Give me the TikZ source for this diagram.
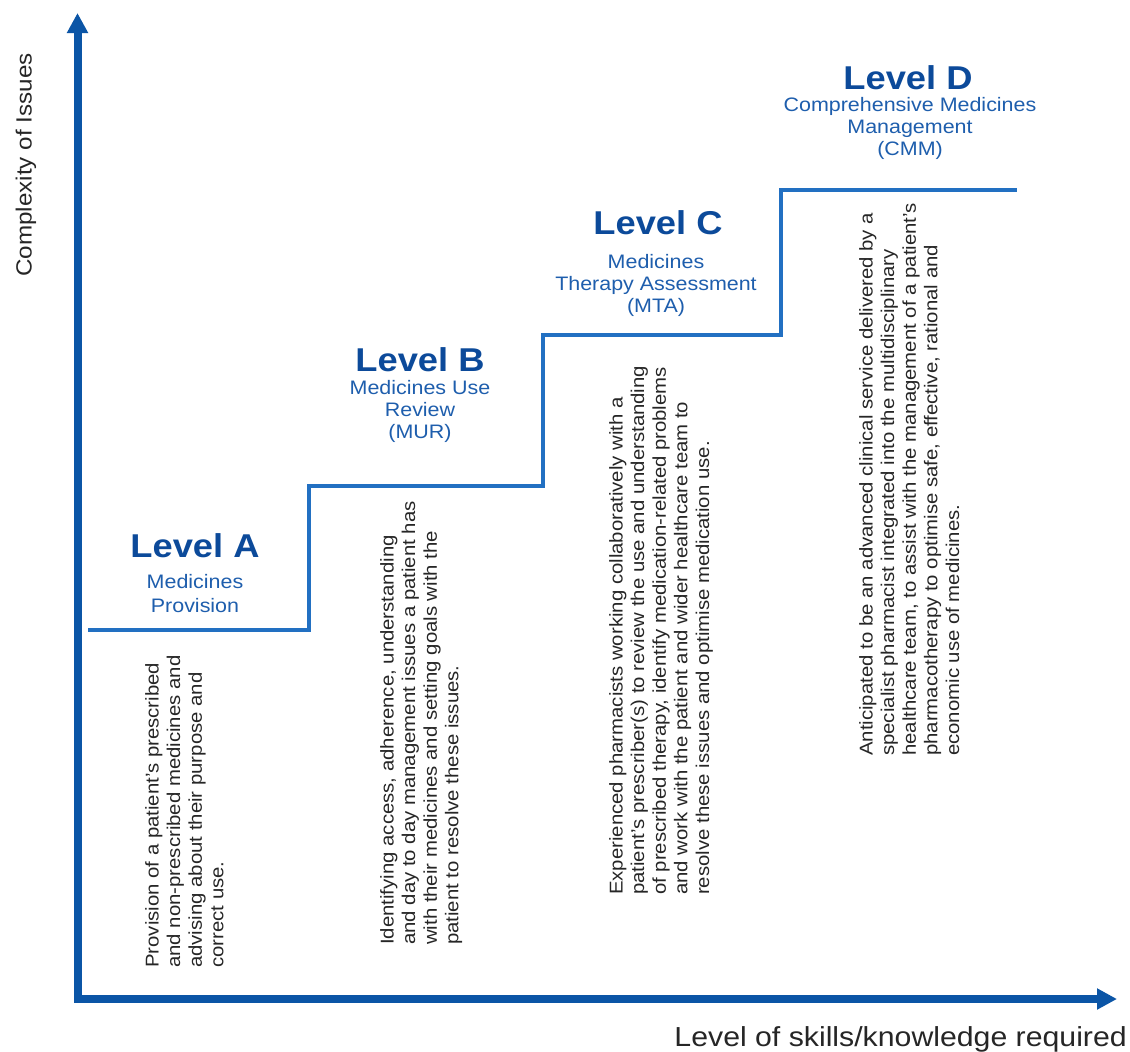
\documentclass[tikz,border=0pt]{standalone}
\usepackage{fontspec}
\setmainfont{Liberation Sans}[FakeStretch=1.1]
\usetikzlibrary{arrows.meta}
\definecolor{axisblue}{HTML}{0B55A6}
\definecolor{stepblue}{HTML}{2270C2}
\definecolor{titleblue}{HTML}{0C4A9A}
\definecolor{subblue}{HTML}{1E5EAD}
\definecolor{bodygray}{HTML}{262626}
\begin{document}
\begin{tikzpicture}[x=1pt,y=-1pt,
  axisline/.style={draw=axisblue, line width=8pt, line join=miter,
    {Triangle[length=20pt,width=20pt]}-{Triangle[length=20pt,width=20pt]}},
  stepline/.style={draw=stepblue, line width=4pt, line join=miter},
  leveltitle/.style={anchor=base, inner sep=0pt, text=titleblue,
    font=\fontsize{33}{38}\selectfont\bfseries},
  levelsub/.style={anchor=north, inner sep=0pt, align=center, text=subblue,
    font=\fontsize{19.5}{22}\selectfont},
  bodytext/.style={rotate=90, anchor=north west, inner sep=0pt, align=left,
    text=bodygray, font=\fontsize{18.5}{21.6}\selectfont},
  axislabel/.style={inner sep=0pt, text=black!85}
]
\useasboundingbox (0,0) rectangle (1130,1052);
\fill[white] (0,0) rectangle (1130,1052);

% axes
\coordinate (ytip) at (77.5,13);
\coordinate (origin) at (77.5,999);
\coordinate (xtip) at (1117,999);
\draw[axisline] (ytip) -- (origin) -- (xtip);

% staircase
\coordinate (s0) at (88,630);
\coordinate (s1) at (309,630);
\coordinate (s2) at (309,486);
\coordinate (s3) at (543,486);
\coordinate (s4) at (543,335);
\coordinate (s5) at (781,335);
\coordinate (s6) at (781,190);
\coordinate (s7) at (1017,190);
\draw[stepline] (s0) -- (s1) -- (s2) -- (s3) -- (s4) -- (s5) -- (s6) -- (s7);

% axis labels
\node[axislabel, rotate=90, font=\fontsize{22}{26}\selectfont] (ylab) at (26,165) {Complexity of Issues};
\node[axislabel, anchor=base east, font=\fontsize{27.5}{32}\selectfont] (xlab) at (1127,1046) {Level of skills/knowledge required};

% Level A
\node[leveltitle] (ta) at (195,557) {Level A};
\node[levelsub] (sa) at (195,574) {Medicines\\[2pt]Provision};
\node[bodytext] (ba) at (145,968) {Provision of a patient's prescribed\\
and non-prescribed medicines and\\
advising about their purpose and\\
correct use.};

% Level B
\node[leveltitle] (tb) at (420,371) {Level B};
\node[levelsub] (sb) at (420,380) {Medicines Use\\Review\\(MUR)};
\node[bodytext] (bb) at (380,945) {Identifying access, adherence, understanding\\
and day to day management issues a patient has\\
with their medicines and setting goals with the\\
patient to resolve these issues.};

% Level C
\node[leveltitle] (tc) at (658,234) {Level C};
\node[levelsub] (sc) at (656,254) {Medicines\\Therapy Assessment\\(MTA)};
\node[bodytext] (bc) at (609,895) {Experienced pharmacists working collaboratively with a\\
patient's prescriber(s) to review the use and understanding\\
of prescribed therapy, identify medication-related problems\\
and work with the patient and wider healthcare team to\\
resolve these issues and optimise medication use.};

% Level D
\node[leveltitle] (td) at (908,89) {Level D};
\node[levelsub] (sd) at (910,97) {Comprehensive Medicines\\Management\\(CMM)};
\node[bodytext] (bd) at (859,756) {Anticipated to be an advanced clinical service delivered by a\\
specialist pharmacist integrated into the multidisciplinary\\
healthcare team, to assist with the management of a patient's\\
pharmacotherapy to optimise safe, effective, rational and\\
economic use of medicines.};
\end{tikzpicture}
\end{document}
